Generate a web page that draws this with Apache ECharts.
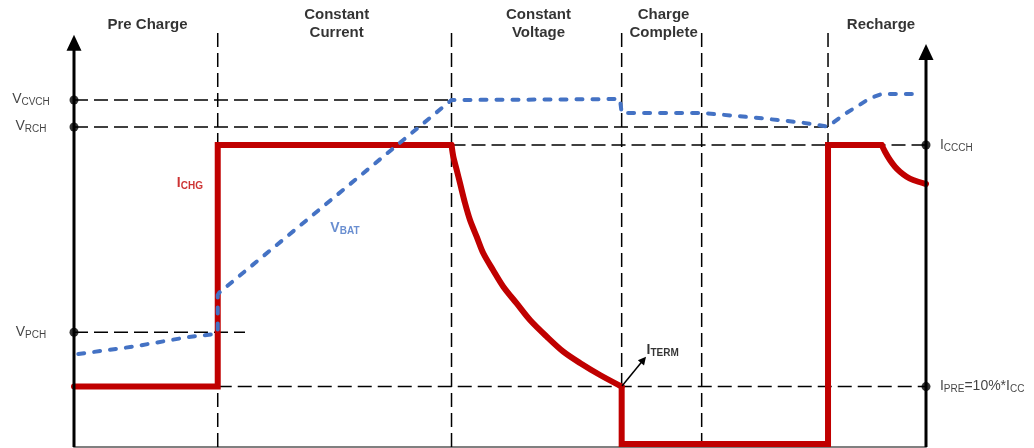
<!DOCTYPE html>
<html><head><meta charset="utf-8">
<script src="https://cdn.jsdelivr.net/npm/echarts@6/dist/echarts.min.js"></script>
<style>html,body{margin:0;padding:0;background:#fff}#c{width:1034px;height:448px}</style>
</head><body><div id="c"></div>
<script>
// ---- data (time units 0..100 across, level units 0..105 up) ----
const phaseBounds = [16.87, 44.31, 64.28, 73.67, 88.5];
const dashTop = 103.5;
const phaseTitles = ['Pre Charge', 'Constant\nCurrent', 'Constant\nVoltage', 'Charge\nComplete', 'Recharge'];
const phaseTitleX = [8.63, 30.83, 54.52, 69.2, 94.72];
const phaseTitleY = [105.5, 105.75, 105.75, 105.75, 105.5];

const levelValues = [86.75, 80, 75.5, 28.69, 15.1];   // VCVCH, VRCH, ICCCH, VPCH, IPRE
const levelFrom   = [0, 0, 44.31, 0, 16.87];
const levelTo     = [44.31, 88.5, 100, 20.07, 100];
const levelAxisX  = [0, 0, 100, 0, 100];

const leftLabels  = ['{m|V}{s|CVCH}', '{m|V}{s|RCH}', '{m|V}{s|PCH}'];
const leftLabelY  = [86.9, 80.2, 28.8];
const leftLabelX  = -5.05;
const rightLabels = ['{m|I}{s|CCCH}', '{m|I}{s|PRE}{m|=10%*I}{s|CC}'];
const rightLabelY = [75.5, 15.1];
const rightLabelX = 101.64;

const ichgPre      = [[0, 15.1], [16.87, 15.1], [16.87, 75.5], [44.31, 75.5]];
const ichgCV       = [[44.31, 75.5], [44.52, 72.58], [44.92, 69.25], [45.31, 65.93], [45.89, 61], [46.48, 56.75], [47.26, 52.6],
  [48.04, 48.43], [49.18, 44.25], [50.39, 40.08], [51.96, 35.9], [53.52, 31.75], [55.48, 27.6], [57.43, 23.83], [59.39, 21],
  [61.74, 18], [64.28, 15.1]];
const ichgDone     = [[64.28, 15.1], [64.28, 0.75], [88.5, 0.75], [88.5, 75.5], [94.8, 75.5]];
const ichgRecharge = [[94.8, 75.5], [95.19, 73.83], [95.77, 71.75], [96.36, 70.08], [96.95, 68.83], [97.73, 67.58], [98.5, 66.75], [100, 65.75]];

const vbat = [[0.5, 23.25], [6.92, 25.08], [13.23, 27.43], [16.31, 28.18], [16.87, 28.75], [16.87, 38], [17.05, 38.6],
  [44.31, 86.75], [54.69, 86.85], [64.08, 87], [64.28, 87], [64.28, 83.5], [73.71, 83.5], [79.77, 82.4], [85.41, 81.1],
  [88.5, 80.1], [90.29, 83], [91.86, 85.08], [93.43, 87.18], [94.8, 88.25], [99.3, 88.25]];

const leftAxis  = [[0, 0], [0, 101.05]];
const rightAxis = [[100, 0], [100, 98.75]];
const itermArrow = [[64.32, 15.25], [66.84, 21.8]];

const curveLabels = ['{m|I}{s|CHG}', '{m|V}{s|BAT}', '{m|I}{s|TERM}'];
const curveLabelX = [13.6, 31.8, 67.2];
const curveLabelY = [66, 54.75, 24.25];

// ---- chart ----
const FONT = "'Liberation Sans', Arial, sans-serif";
const chart = echarts.init(document.getElementById('c'));
const series = [];
const dashStyle = { color: '#000', width: 1.5, type: [14, 6] };
phaseBounds.forEach(x => series.push({ type: 'line', data: [[x, 0], [x, dashTop]], symbol: 'none', lineStyle: dashStyle, clip: false, silent: true, z: 1 }));
levelValues.forEach((v, i) => series.push({ type: 'line', data: [[levelFrom[i], v], [levelTo[i], v]], symbol: 'none', lineStyle: dashStyle, clip: false, silent: true, z: 1 }));

const red = { color: '#C00000', width: 6, cap: 'round', join: 'miter' };
[ichgPre, ichgCV, ichgDone, ichgRecharge].forEach(d => {
  const curved = d === ichgCV || d === ichgRecharge;
  series.push({ type: 'line', data: d, smooth: curved ? 0.3 : false, symbol: 'none',
    lineStyle: Object.assign({}, red, curved ? { join: 'round' } : {}), clip: false, silent: true, z: 3 });
});

series.push({ type: 'line', data: vbat, symbol: 'none', lineStyle: { color: '#4472C4', width: 4, type: [6, 10], cap: 'round', join: 'round' }, clip: false, silent: true, z: 4 });

[leftAxis, rightAxis].forEach(a => series.push({
  type: 'line', clip: false, silent: true, z: 5,
  data: [{ value: a[0], symbol: 'none' }, { value: a[1], symbol: 'triangle', symbolSize: [15, 16] }],
  itemStyle: { color: '#000' }, lineStyle: { color: '#000', width: 3 }
}));

series.push({
  type: 'lines', coordinateSystem: 'cartesian2d', z: 5, silent: true,
  data: [{ coords: itermArrow }], symbol: ['none', 'triangle'], symbolSize: [0, 8],
  lineStyle: { color: '#000', width: 1.5, opacity: 1 }
});

series.push({
  type: 'scatter', clip: false, silent: true, z: 6, symbolSize: 9, itemStyle: { color: '#000' },
  data: levelValues.map((v, i) => [levelAxisX[i], v])
});

const richFor = (col, bold) => ({
  m: { fontSize: 14, lineHeight: 16, fontFamily: FONT, color: col, fontWeight: bold ? 'bold' : 'normal' },
  s: { fontSize: 10, lineHeight: 10, verticalAlign: 'bottom', fontFamily: FONT, color: col, fontWeight: bold ? 'bold' : 'normal' }
});
const labelData = [];
phaseTitles.forEach((t, i) => labelData.push({ value: [phaseTitleX[i], phaseTitleY[i]], label: { show: true, position: 'inside', formatter: t, fontFamily: FONT, fontSize: 15, fontWeight: 'bold', lineHeight: 18, color: '#000', align: 'center' } }));
leftLabels.forEach((t, i) => labelData.push({ value: [leftLabelX, leftLabelY[i]], label: { show: true, position: 'inside', formatter: t, rich: richFor('#111', false) } }));
rightLabels.forEach((t, i) => labelData.push({ value: [rightLabelX, rightLabelY[i]], label: { show: true, position: 'right', distance: 0, formatter: t, rich: richFor('#111', false) } }));
const curveCols = ['#C00000', '#4472C4', '#000'];
curveLabels.forEach((t, i) => labelData.push({ value: [curveLabelX[i], curveLabelY[i]], label: { show: true, position: i === 2 ? 'right' : 'inside', distance: 0, formatter: t, rich: richFor(curveCols[i], true) } }));
series.push({ type: 'scatter', clip: false, silent: true, z: 7, symbolSize: 0, itemStyle: { color: 'rgba(0,0,0,0)' }, data: labelData });

chart.setOption({
  animation: false,
  backgroundColor: '#fff',
  grid: { left: 74, right: 108, top: 27, bottom: 1 },
  xAxis: { type: 'value', min: 0, max: 100, axisLine: { show: true, lineStyle: { color: '#808080', width: 2 } }, axisTick: { show: false }, axisLabel: { show: false }, splitLine: { show: false } },
  yAxis: { type: 'value', min: 0, max: 105, show: false },
  series: series
});
</script></body></html>
